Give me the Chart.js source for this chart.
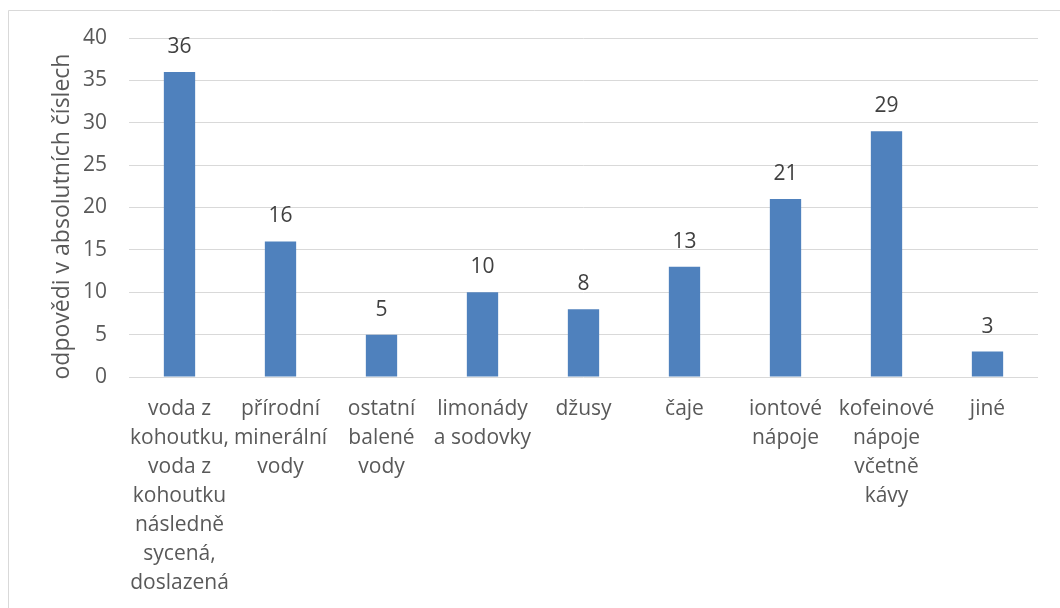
<!DOCTYPE html>
<html lang="cs">
<head>
<meta charset="utf-8">
<title>Nápoje</title>
<script src="https://cdn.jsdelivr.net/npm/chart.js@4.4.1/dist/chart.umd.min.js"></script>
<style>
  html, body { margin: 0; padding: 0; background: #ffffff; }
  #chart { display: block; }
</style>
</head>
<body>
<canvas id="chart" width="1060" height="608"></canvas>
<script>
// Kategorie nápojů (víceřádkové popisky osy X)
const categories = [
  ['voda z', 'kohoutku,', 'voda z', 'kohoutku', 'následně', 'sycená,', 'doslazená'],
  ['přírodní', 'minerální', 'vody'],
  ['ostatní', 'balené', 'vody'],
  ['limonády', 'a sodovky'],
  ['džusy'],
  ['čaje'],
  ['iontové', 'nápoje'],
  ['kofeinové', 'nápoje', 'včetně', 'kávy'],
  ['jiné']
];

// Počty odpovědí
const responses = [36, 16, 5, 10, 8, 13, 21, 29, 3];

// Osa Y
const yTicks = [0, 5, 10, 15, 20, 25, 30, 35, 40];
const yTitle = 'odpovědi v absolutních číslech';

const FONT = "'Open Sans', 'Liberation Sans', sans-serif";
const TEXT_COLOR = '#595959';
const GRID_COLOR = '#d9d9d9';
const BAR_COLOR = '#4f81bd';

// Rámeček kolem grafu
const frame = {
  id: 'frame',
  beforeDraw(chart) {
    const ctx = chart.ctx;
    ctx.save();
    ctx.fillStyle = '#ffffff';
    ctx.fillRect(0, 0, chart.width, chart.height);
    ctx.strokeStyle = GRID_COLOR;
    ctx.lineWidth = 1;
    ctx.beginPath();
    ctx.moveTo(8.5, chart.height);
    ctx.lineTo(8.5, 10.5);
    ctx.lineTo(chart.width, 10.5);
    ctx.stroke();
    ctx.restore();
  }
};

// Svislý popisek osy Y
const axisTitle = {
  id: 'axisTitle',
  afterDraw(chart) {
    const ctx = chart.ctx;
    const area = chart.chartArea;
    ctx.save();
    ctx.translate(62, (area.top + area.bottom) / 2 + 9);
    ctx.rotate(-Math.PI / 2);
    ctx.font = '23px ' + FONT;
    ctx.fillStyle = TEXT_COLOR;
    ctx.textAlign = 'center';
    ctx.textBaseline = 'middle';
    ctx.fillText(yTitle, 0, 0);
    ctx.restore();
  }
};

// Hodnoty nad sloupci
const valueLabels = {
  id: 'valueLabels',
  afterDatasetsDraw(chart) {
    const ctx = chart.ctx;
    const meta = chart.getDatasetMeta(0);
    const data = chart.data.datasets[0].data;
    ctx.save();
    ctx.font = '21px ' + FONT;
    ctx.fillStyle = '#404040';
    ctx.textAlign = 'center';
    ctx.textBaseline = 'middle';
    meta.data.forEach((bar, i) => {
      ctx.fillText(String(data[i]), bar.x, bar.y - 25);
    });
    ctx.restore();
  }
};

new Chart(document.getElementById('chart'), {
  type: 'bar',
  data: {
    labels: categories,
    datasets: [{
      data: responses,
      backgroundColor: BAR_COLOR,
      borderWidth: 0,
      categoryPercentage: 1,
      barPercentage: 0.31
    }]
  },
  options: {
    responsive: false,
    animation: false,
    layout: { padding: { left: 49, right: 22, top: 38, bottom: 0 } },
    plugins: {
      legend: { display: false },
      tooltip: { enabled: false }
    },
    scales: {
      x: {
        grid: { display: false, drawTicks: false },
        border: { display: false },
        ticks: {
          color: TEXT_COLOR,
          font: { family: FONT, size: 21, lineHeight: 1.381 },
          padding: 17.5,
          maxRotation: 0,
          autoSkip: false
        },
        afterFit(scale) { scale.height = 231; }
      },
      y: {
        min: 0,
        max: 40,
        grid: { color: GRID_COLOR, lineWidth: 1, drawTicks: false },
        border: { display: false },
        afterBuildTicks(scale) { scale.ticks = yTicks.map(v => ({ value: v })); },
        ticks: {
          color: TEXT_COLOR,
          font: { family: FONT, size: 21 },
          padding: 22
        },
        afterFit(scale) { scale.width = 80; }
      }
    }
  },
  plugins: [frame, valueLabels, axisTitle]
});
</script>
</body>
</html>
